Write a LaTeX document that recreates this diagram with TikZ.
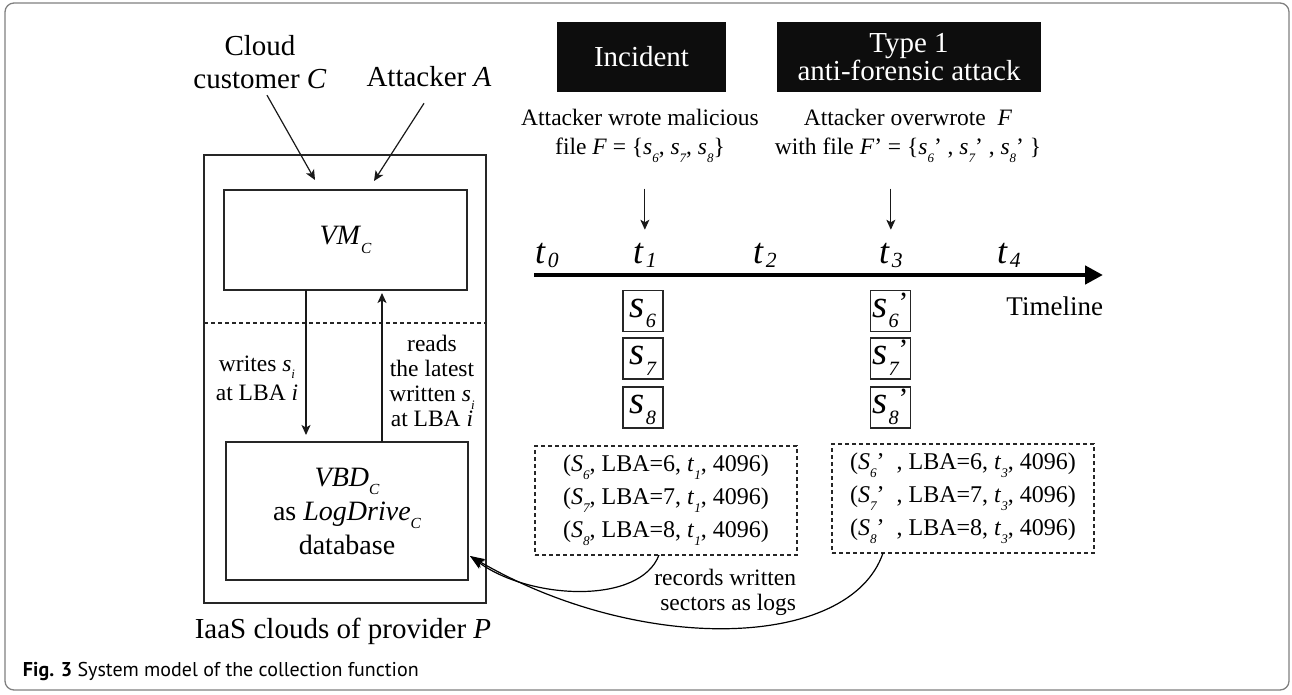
\documentclass[tikz,border=0pt]{standalone}
\usepackage{fontspec}
\setmainfont{Liberation Serif}
\newfontfamily\capfont{PT Sans}
\usepackage{graphicx}
\usetikzlibrary{arrows.meta,calc}

% italic lowered index, sized relative to the surrounding text
\newcommand{\isub}[1]{\raisebox{-0.32em}{\scalebox{0.55}{\itshape #1}}}
% index for the time marks
\newcommand{\tsub}[1]{\kern0.06em\raisebox{-0.12em}{\scalebox{0.6}{\itshape #1}}}
% index and prime of a sector label
\newcommand{\ssub}[1]{\kern0.02em\raisebox{-0.28em}{\scalebox{0.52}{\itshape #1}}}
\newcommand{\sprime}{\raisebox{0.12em}{\scalebox{0.75}{’}}}

\begin{document}
\begin{tikzpicture}[x=1pt,y=-1pt,
  every node/.style={inner sep=0pt, outer sep=0pt},
  framebox/.style={draw=black!50, line width=1.3pt, rounded corners=9pt},
  plainbox/.style={draw=black!85, line width=1.4pt},
  darkbox/.style={fill=black!95, text=white, font=\fontsize{29}{28}\selectfont, align=center},
  bigtxt/.style={font=\fontsize{29}{33}\selectfont, align=center},
  midtxt/.style={font=\fontsize{23.5}{29}\selectfont, align=center},
  tmark/.style={font=\fontsize{36}{40}\selectfont, anchor=base west},
  sector/.style={draw=black!85, line width=1.4pt, minimum width=40pt, minimum height=41pt,
    text height=22pt, text depth=10pt, font=\fontsize{39}{40}\selectfont},
  logbox/.style={draw=black!85, line width=1.2pt, dash pattern=on 4pt off 3pt, minimum width=262pt, minimum height=109pt, align=center, font=\fontsize{24}{33}\selectfont},
  arr/.style={draw=black!90, line width=1.2pt, -{Stealth[length=10pt,width=9pt,inset=2.5pt]}},
  bigarr/.style={line width=4.5pt, -{Triangle[length=18pt,width=18pt]}},
  curvearr/.style={line width=1.2pt, -{Stealth[length=15pt,width=10pt,inset=4pt]}},
]
\useasboundingbox (0,0) rectangle (1292,695);

% outer frame
\draw[framebox] (5,3) rectangle (1289,690);

% ---------- provider side ----------
\node[plainbox, minimum width=282pt, minimum height=448pt] (iaas) at (345,379) {};
\draw[black!85, line width=1.2pt, dash pattern=on 4pt off 3pt] (iaas.west |- 0,323) -- (iaas.east |- 0,323);

\node[plainbox, minimum width=243pt, minimum height=100pt, font=\fontsize{28}{34}\selectfont] (vm) at (345.5,240)
  {\textit{VM}\isub{C}};
\node[plainbox, minimum width=242pt, minimum height=138pt, align=center, font=\fontsize{28}{34}\selectfont] (vbd) at (347,511)
  {\textit{VBD}\isub{C}\\as \textit{LogDrive}\isub{C}\\database};

\node[bigtxt] (cust) at (260,62.5) {Cloud\\customer \textit{C}};
\node[bigtxt, anchor=base] (att) at (429,87) {Attacker \textit{A}};
\node[bigtxt, anchor=base] (iaaslbl) at (343,638) {IaaS clouds of provider \textit{P}};

\draw[arr] ([xshift=7pt,yshift=-6pt]cust.south) -- ([xshift=-30.5pt,yshift=10pt]vm.north);
\draw[arr] ([xshift=-5pt,yshift=-16pt]att.south) -- ([xshift=28.5pt,yshift=9pt]vm.north);

\draw[arr] ([xshift=-39.5pt]vm.south) -- ([xshift=-41pt,yshift=7pt]vbd.north);
\draw[arr] ([xshift=35pt]vbd.north) -- ([xshift=36.5pt,yshift=-3pt]vm.south);

\node[midtxt] (writes) at (257,378) {writes \textit{s}\isub{i}\\at LBA \textit{i}};
\node[midtxt, font=\fontsize{23.5}{25}\selectfont] (reads) at (432,381)
  {reads\\the latest\\written \textit{s}\isub{i}\\at LBA \textit{i}};

% ---------- timeline side ----------
\node[darkbox, minimum width=169pt, minimum height=70pt] (incident) at (641.5,57) {Incident};
\node[darkbox, minimum width=264pt, minimum height=70pt] (type1) at (909,57) {Type 1\\anti-forensic attack};

\node[midtxt] (wrote) at (640,136)
  {Attacker wrote malicious\\file \textit{F} = \{\textit{s}\isub{6}, \textit{s}\isub{7}, \textit{s}\isub{8}\}};
\node[midtxt] (overwrote) at (908,136)
  {Attacker overwrote \ \textit{F}\\with file \textit{F}’ = \{\textit{s}\isub{6}’\ , \textit{s}\isub{7}’\ , \textit{s}\isub{8}’\ \}};

\node[tmark] (t0) at (535,263) {\textit{t}\tsub{0}};
\node[tmark] (t1) at (633,263) {\textit{t}\tsub{1}};
\node[tmark] (t2) at (753,263) {\textit{t}\tsub{2}};
\node[tmark] (t3) at (879,263) {\textit{t}\tsub{3}};
\node[tmark] (t4) at (997,263) {\textit{t}\tsub{4}};

\draw[arr] ([yshift=54pt]t1.north) -- ([yshift=13pt]t1.north);
\draw[arr] ([yshift=54pt]t3.north) -- ([yshift=13pt]t3.north);

\coordinate (tstart) at (534,275);
\coordinate (tend) at (1103,275);
\draw[bigarr] (tstart) -- (tend);
\node[font=\fontsize{27}{30}\selectfont, anchor=base east] (timeline) at (1103,315) {Timeline};

\node[sector] (a6) at (643,311) {\textit{s}\ssub{6}};
\node[sector] (a7) at (643,358.5) {\textit{s}\ssub{7}};
\node[sector] (a8) at (643,407.5) {\textit{s}\ssub{8}};
\node[sector] (b6) at (890.5,311) {\textit{s}\ssub{6}\sprime};
\node[sector] (b7) at (890.5,358.5) {\textit{s}\ssub{7}\sprime};
\node[sector] (b8) at (890.5,407.5) {\textit{s}\ssub{8}\sprime};

\node[logbox] (log1) at (666,500.5)
  {(\textit{S}\isub{6}, LBA=6, \textit{t}\isub{1}, 4096)\\
   (\textit{S}\isub{7}, LBA=7, \textit{t}\isub{1}, 4096)\\
   (\textit{S}\isub{8}, LBA=8, \textit{t}\isub{1}, 4096)};
\node[logbox] (log2) at (963,498.5)
  {(\textit{S}\isub{6}’\ \ , LBA=6, \textit{t}\isub{3}, 4096)\\
   (\textit{S}\isub{7}’\ \ , LBA=7, \textit{t}\isub{3}, 4096)\\
   (\textit{S}\isub{8}’\ \ , LBA=8, \textit{t}\isub{3}, 4096)};

\node[midtxt, align=right, font=\fontsize{23.5}{25}\selectfont, anchor=east] (records) at (796,592)
  {records written\\sectors as logs};

\draw[curvearr] ([xshift=-7pt]log1.south) .. controls (640,605) and (530,600) .. ([xshift=2pt,yshift=-45pt]vbd.east);
\draw[curvearr] ([xshift=-80pt]log2.south) .. controls (850,650) and (640,655) .. ([xshift=2pt,yshift=-45pt]vbd.east);

% caption
\node[anchor=base west, font=\capfont\fontsize{20}{22}\selectfont] (caption) at (23,676)
  {\textbf{Fig. 3} System model of the collection function};
\end{tikzpicture}
\end{document}
